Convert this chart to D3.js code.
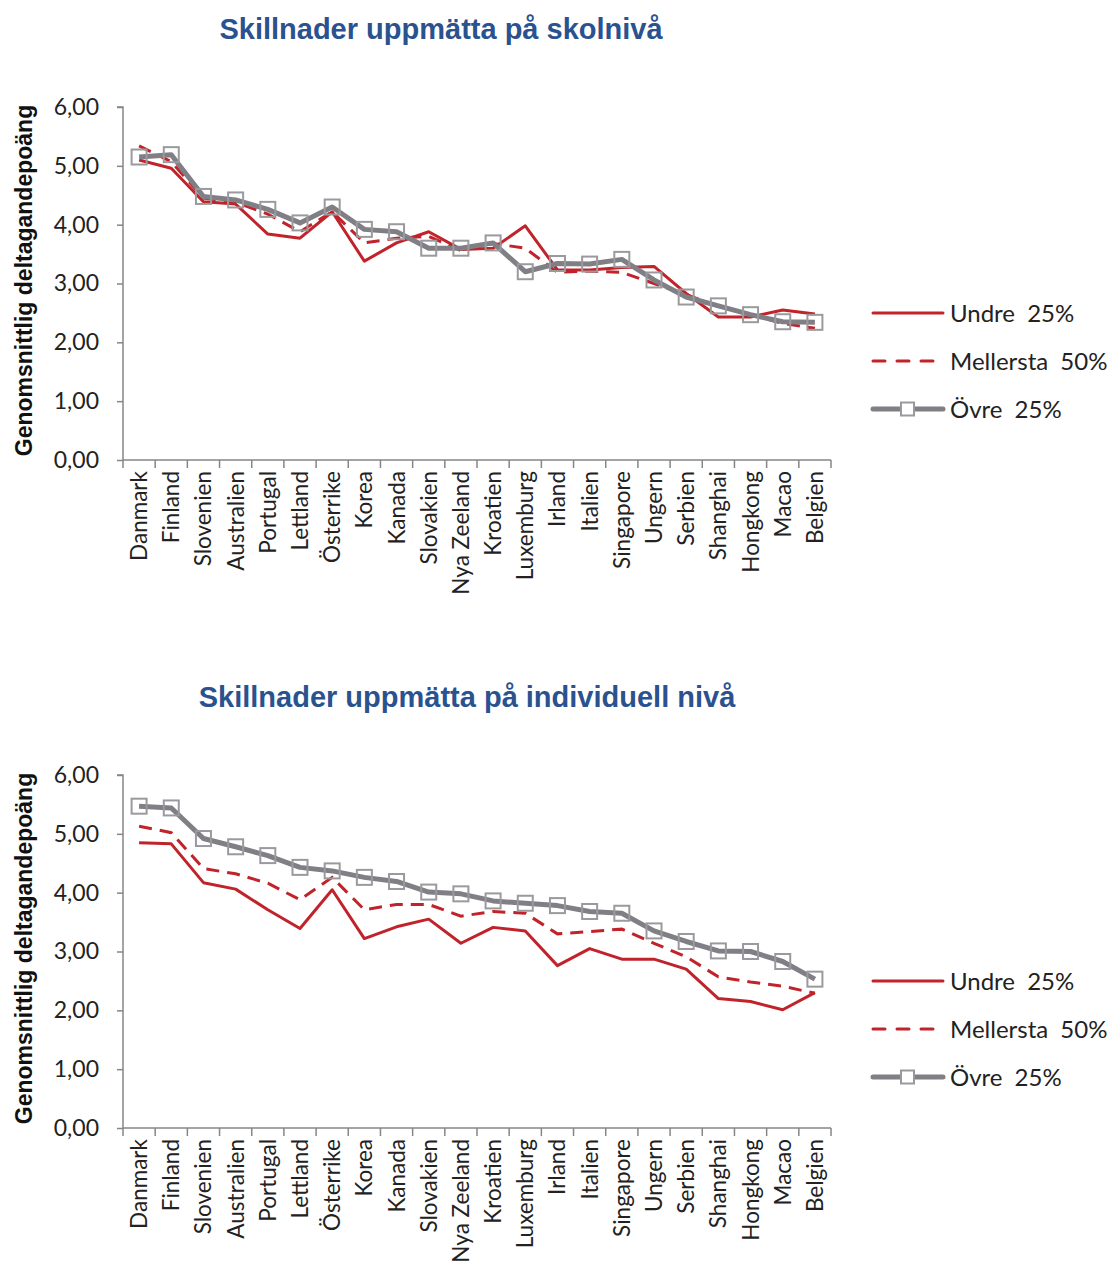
<!DOCTYPE html>
<html>
<head>
<meta charset="utf-8">
<script src="https://cdn.jsdelivr.net/npm/d3@7"></script>
<style>
  body { margin: 0; background: #fff; }
  svg text { font-family: Lato, "Open Sans", sans-serif; fill: #222; }
  .title { font-family: "Liberation Sans", Arial, sans-serif; font-weight: bold; fill: #2a528f; }
  .ylabel { font-family: "Liberation Sans", Arial, sans-serif; font-weight: bold; fill: #111; }
</style>
</head>
<body>
<div id="chart"></div>
<script>
const countries = ["Danmark", "Finland", "Slovenien", "Australien", "Portugal", "Lettland",
  "Österrike", "Korea", "Kanada", "Slovakien", "Nya Zeeland", "Kroatien", "Luxemburg",
  "Irland", "Italien", "Singapore", "Ungern", "Serbien", "Shanghai", "Hongkong", "Macao", "Belgien"];

const yTicks = [0, 1, 2, 3, 4, 5, 6];
const seriesNames = ["Undre 25%", "Mellersta 50%", "Övre 25%"];

// skolnivå
const schoolLow = [5.10, 4.96, 4.39, 4.35, 3.84, 3.77, 4.22, 3.38, 3.69, 3.88, 3.58,
  3.60, 3.98, 3.23, 3.23, 3.27, 3.29, 2.83, 2.43, 2.43, 2.55, 2.48];
const schoolMid = [5.34, 5.07, 4.45, 4.38, 4.18, 3.88, 4.22, 3.69, 3.77, 3.80, 3.56,
  3.68, 3.60, 3.19, 3.21, 3.19, 3.00, 2.81, 2.61, 2.47, 2.32, 2.24];
const schoolTop = [5.15, 5.19, 4.48, 4.42, 4.26, 4.03, 4.30, 3.92, 3.88, 3.60, 3.60,
  3.69, 3.20, 3.34, 3.33, 3.41, 3.06, 2.77, 2.62, 2.47, 2.35, 2.34];

// individuell nivå
const indivLow = [4.85, 4.83, 4.17, 4.06, 3.71, 3.39, 4.05, 3.22, 3.42, 3.55, 3.14,
  3.41, 3.35, 2.76, 3.05, 2.87, 2.87, 2.70, 2.20, 2.15, 2.01, 2.30];
const indivMid = [5.13, 5.02, 4.41, 4.32, 4.16, 3.88, 4.26, 3.71, 3.80, 3.80, 3.60,
  3.68, 3.65, 3.30, 3.34, 3.38, 3.14, 2.91, 2.57, 2.48, 2.41, 2.29];
const indivTop = [5.47, 5.44, 4.92, 4.78, 4.63, 4.43, 4.37, 4.26, 4.19, 4.01, 3.98,
  3.86, 3.82, 3.78, 3.68, 3.65, 3.35, 3.17, 3.01, 3.00, 2.83, 2.53];

const red = "#c1232b";
const grey = "#7f7f85";
const axisColor = "#868686";

const svg = d3.select("#chart").append("svg")
  .attr("width", 1109)
  .attr("height", 1262);

function drawChart(top, title, titleX, low, mid, high) {
  const g = svg.append("g").attr("transform", `translate(0,${top})`);
  const left = 123, right = 831, y0 = 460, y6 = 107;

  const x = d3.scaleBand().domain(countries).range([left, right]);
  const y = d3.scaleLinear().domain([0, 6]).range([y0, y6]);

  g.append("text").attr("class", "title")
    .attr("x", titleX).attr("y", 39)
    .attr("text-anchor", "middle")
    .attr("font-size", 29)
    .text(title);

  g.append("text").attr("class", "ylabel")
    .attr("transform", `translate(32,${(y0 + y6) / 2 - 3}) rotate(-90)`)
    .attr("text-anchor", "middle")
    .attr("font-size", 23)
    .text("Genomsnittlig deltagandepoäng");

  // y axis
  const yAxis = g.append("g")
    .attr("transform", `translate(${left},0)`)
    .call(d3.axisLeft(y).tickValues(yTicks).tickSize(6).tickPadding(18)
      .tickFormat(d => d3.format(".2f")(d).replace(".", ",")));
  yAxis.selectAll("path, line").attr("stroke", axisColor).attr("stroke-width", 1.5);
  yAxis.select(".domain").attr("d", `M-6,${y6}H0V${y0}`);
  yAxis.selectAll("text").attr("font-size", 23).attr("fill", "#222")
    .attr("font-family", "Lato, sans-serif");

  // x axis
  const xAxis = g.append("g").attr("transform", `translate(0,${y0})`);
  xAxis.append("line").attr("x1", left).attr("x2", right)
    .attr("stroke", axisColor).attr("stroke-width", 1.5);
  const edges = countries.map(c => x(c)).concat([right]);
  xAxis.selectAll("line.tick").data(edges).enter().append("line")
    .attr("class", "tick")
    .attr("x1", d => d).attr("x2", d => d)
    .attr("y1", 0).attr("y2", 8)
    .attr("stroke", axisColor).attr("stroke-width", 1.5);
  xAxis.selectAll("text").data(countries).enter().append("text")
    .attr("transform", d => `translate(${x(d) + x.bandwidth() / 2 + 8},11) rotate(-90)`)
    .attr("text-anchor", "end")
    .attr("font-size", 22.5)
    .text(d => d);

  const cx = i => x(countries[i]) + x.bandwidth() / 2;
  const line = d3.line().x((d, i) => cx(i)).y(d => y(d));

  g.append("path").datum(low).attr("d", line)
    .attr("fill", "none").attr("stroke", red).attr("stroke-width", 3)
    .attr("stroke-linejoin", "round");
  g.append("path").datum(mid).attr("d", line)
    .attr("fill", "none").attr("stroke", red).attr("stroke-width", 3)
    .attr("stroke-dasharray", "13,8");
  g.append("path").datum(high).attr("d", line)
    .attr("fill", "none").attr("stroke", grey).attr("stroke-width", 5)
    .attr("stroke-linejoin", "round");
  g.selectAll("rect.marker").data(high).enter().append("rect")
    .attr("class", "marker")
    .attr("x", (d, i) => cx(i) - 7.5).attr("y", d => y(d) - 7.5)
    .attr("width", 15).attr("height", 15)
    .attr("fill", "none").attr("stroke", "#9a9a9e").attr("stroke-width", 2);

  // legend
  const lg = g.append("g").attr("transform", "translate(873,313)");
  const rows = lg.selectAll("g").data(seriesNames).enter().append("g")
    .attr("transform", (d, i) => `translate(0,${i * 48})`);
  rows.append("line").attr("x1", 0).attr("x2", 70)
    .attr("stroke", (d, i) => i < 2 ? red : grey)
    .attr("stroke-width", (d, i) => i < 2 ? 3 : 5)
    .attr("stroke-linecap", "round")
    .attr("stroke-dasharray", (d, i) => i === 1 ? "12,12" : null);
  rows.filter((d, i) => i === 2).append("rect")
    .attr("x", 28).attr("y", -6.5).attr("width", 13).attr("height", 13)
    .attr("fill", "#fff").attr("stroke", "#9a9a9e").attr("stroke-width", 2);
  rows.append("text").attr("x", 77).attr("y", 9)
    .attr("font-size", 24)
    .attr("word-spacing", 6)
    .text(d => d);
}

drawChart(0, "Skillnader uppmätta på skolnivå", 441, schoolLow, schoolMid, schoolTop);
drawChart(668, "Skillnader uppmätta på individuell nivå", 467, indivLow, indivMid, indivTop);
</script>
</body>
</html>
